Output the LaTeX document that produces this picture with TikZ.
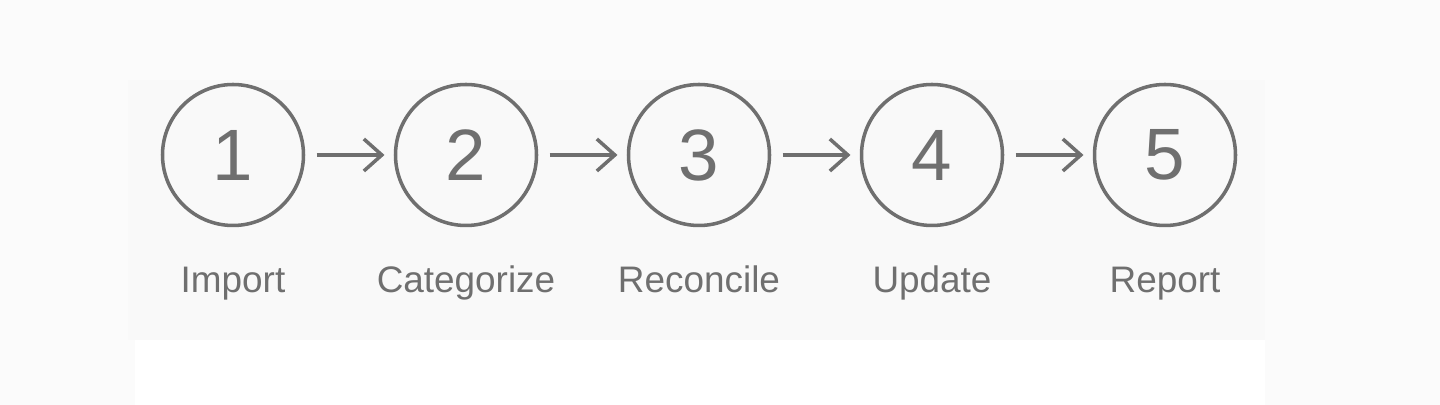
\documentclass[tikz,border=0pt]{standalone}
\usepackage{fontspec}
\setmainfont{Liberation Sans}
\usetikzlibrary{positioning,arrows.meta}

\definecolor{ink}{HTML}{6F6F6F}
\definecolor{pagebg}{HTML}{FBFBFB}
\definecolor{panelbg}{HTML}{F9F9F9}

\tikzset{
  stepnode/.style={circle, draw=ink, line width=1pt, minimum size=1.41cm,
    inner sep=0pt, outer sep=0pt, text=ink, font=\fontsize{20.7}{22}\selectfont},
  steplabel/.style={inner sep=0pt, text=ink, text height=0.264cm, text depth=0.08cm,
    font=\fontsize{10.5}{12}\selectfont},
  flow/.style={draw=ink, line width=1pt, -{Straight Barb[length=0.18cm, width=0.32cm]},
    shorten <=0.13cm, shorten >=0.11cm}
}

\begin{document}
\begin{tikzpicture}[node distance = 0.92cm]
        % background
        \fill[pagebg] (0,0) rectangle (14.4,-4.05);
        \fill[panelbg] (1.28,-0.80) rectangle (12.65,-3.40);
        \fill[white] (1.35,-3.40) rectangle (12.65,-4.05);
        \useasboundingbox (0,0) rectangle (14.4,-4.05);

        \node[stepnode] (s1) at (2.33,-1.55) {1};
        \node[stepnode, right=of s1] (s2) {2};
        \node[stepnode, right=of s2] (s3) {3};
        \node[stepnode, right=of s3] (s4) {4};
        \node[stepnode, right=of s4] (s5) {5};

        \node[steplabel, below=0.40cm of s1] (l1) {Import};
        \node[steplabel, below=0.40cm of s2] (l2) {Categorize};
        \node[steplabel, below=0.40cm of s3] (l3) {Reconcile};
        \node[steplabel, below=0.40cm of s4] (l4) {Update};
        \node[steplabel, below=0.40cm of s5] (l5) {Report};

        \draw[flow] (s1) -- (s2);
        \draw[flow] (s2) -- (s3);
        \draw[flow] (s3) -- (s4);
        \draw[flow] (s4) -- (s5);

    \end{tikzpicture}
\end{document}
